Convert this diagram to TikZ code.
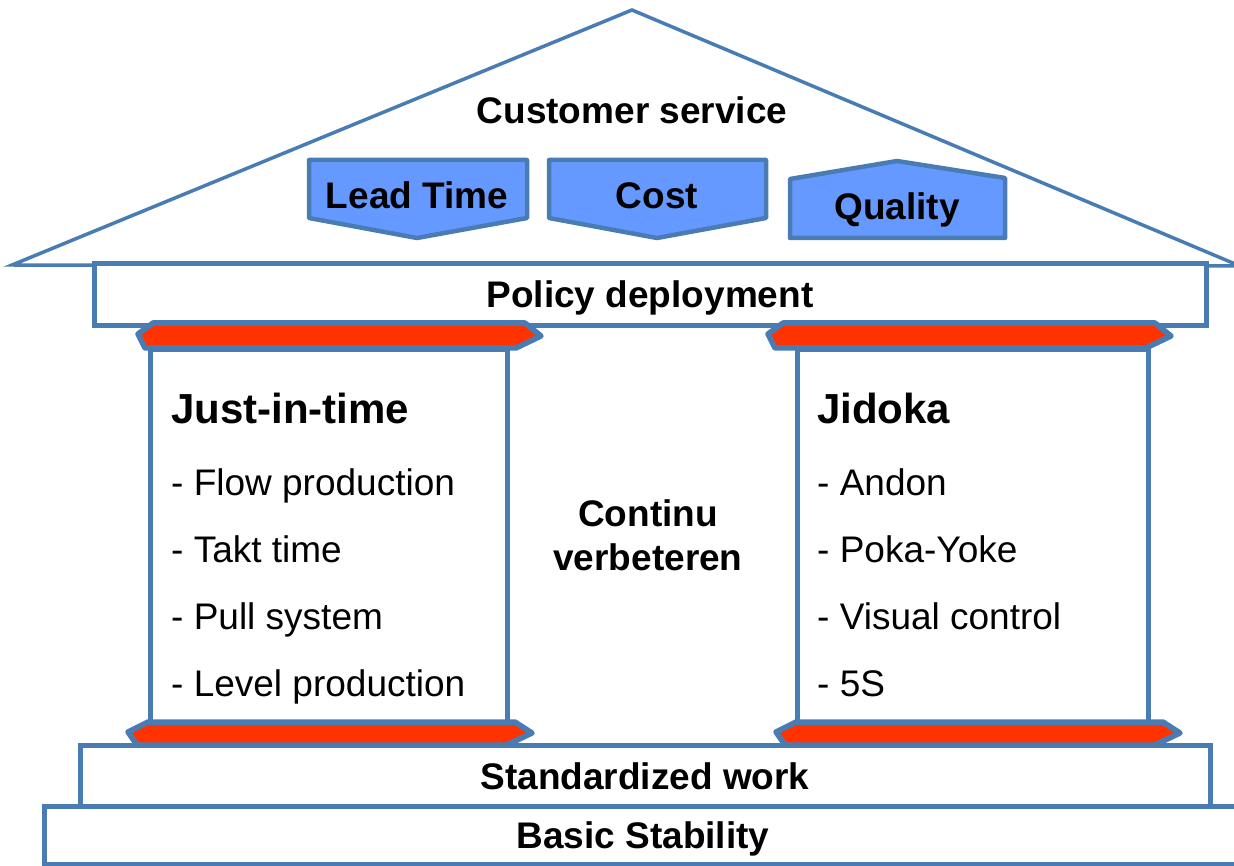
\documentclass[tikz,border=0pt]{standalone}
\usepackage{fontspec}
\setmainfont{Liberation Sans}
\usepackage{tikz}
\usetikzlibrary{positioning}
\definecolor{houseblue}{HTML}{4A7CB4}
\definecolor{goalblue}{HTML}{6699FF}
\definecolor{bandred}{HTML}{FF3300}
\newcommand{\hbold}{\fontsize{37}{40}\selectfont\bfseries}
\newcommand{\htitle}{\fontsize{42}{46}\selectfont\bfseries}
\newcommand{\hitem}{\fontsize{37}{40}\selectfont}

\begin{document}
\begin{tikzpicture}[x=1pt, y=-1pt,
    beam/.style={draw=houseblue, line width=5pt, fill=white, font=\hbold,
        text height=26pt, text depth=0pt, inner sep=0pt},
    pillar/.style={draw=houseblue, line width=5pt, fill=white, inner sep=0pt},
    goal/.style={draw=houseblue, line width=4.5pt, fill=goalblue, line join=round},
    band/.style={draw=houseblue, line width=5.5pt, fill=bandred, line join=round},
    label/.style={font=\hbold, text height=26pt, text depth=0pt, inner sep=0pt},
    item/.style={font=\hitem, anchor=base west, inner sep=0pt}]
    \useasboundingbox (0,0) rectangle (1234,866);

    % Roof
    \draw[houseblue, line width=3.5pt] (12,265) -- (632,10) -- (1240,266) -- cycle;
    \node[label] (service) at (632,111) {Customer service};

    % Goals
    \draw[goal] (309,160) -- (527,160) -- (527,218) -- (417,238) -- (309,218) -- cycle;
    \node[label] (leadtime) at (417,196) {Lead Time};
    \draw[goal] (549,160) -- (766,160) -- (766,218) -- (657,238) -- (549,218) -- cycle;
    \node[label] (cost) at (657,196) {Cost};
    \draw[goal] (790,238) -- (790,179) -- (897,161) -- (1005,178) -- (1005,238) -- cycle;
    \node[label] (quality) at (897,207) {Quality};

    % Policy deployment
    \node[beam, minimum width=1112pt, minimum height=62pt] (policy) at (650,295) {Policy deployment};

    % Pillars
    \node[pillar, minimum width=357pt, minimum height=372pt] (jitbox) at (328.5,536) {};
    \node[pillar, minimum width=351pt, minimum height=372pt] (jidokabox) at (972.5,536) {};

    % Capitals and bases
    \draw[band] (153,323) -- (525,323) -- (541,336) -- (516,348) -- (145,348) -- (138,334) -- cycle;
    \draw[band] (783,323) -- (1155,323) -- (1171,336) -- (1146,348) -- (775,348) -- (768,334) -- cycle;
    \draw[band] (148,722) -- (515,722) -- (532,733) -- (507,745) -- (137,745) -- (128,732) -- cycle;
    \draw[band] (796,722) -- (1163,722) -- (1180,733) -- (1155,745) -- (785,745) -- (776,732) -- cycle;

    % Just-in-time
    \node[font=\htitle, anchor=base west, inner sep=0pt] (jit) at (171,424) {Just-in-time};
    \node[item] (flow) at (171,495) {- Flow production};
    \node[item] (takt) at (171,562) {- Takt time};
    \node[item] (pull) at (171,629) {- Pull system};
    \node[item] (level) at (171,696) {- Level production};

    % Jidoka
    \node[font=\htitle, anchor=base west, inner sep=0pt] (jidoka) at (817,424) {Jidoka};
    \node[item] (andon) at (817,495) {- Andon};
    \node[item] (poka) at (817,562) {- Poka-Yoke};
    \node[item] (visual) at (817,629) {- Visual control};
    \node[item] (fives) at (817,696) {- 5S};

    % Middle
    \node[label] (continu) at (648,513) {Continu};
    \node[label] (verbeteren) at (648,557) {verbeteren};

    % Foundation
    \node[beam, minimum width=1198pt, minimum height=58pt] (basic) at (643,835) {Basic Stability};
    \node[beam, minimum width=1130pt, minimum height=61pt] (standard) at (645,776) {Standardized work};
\end{tikzpicture}
\end{document}
